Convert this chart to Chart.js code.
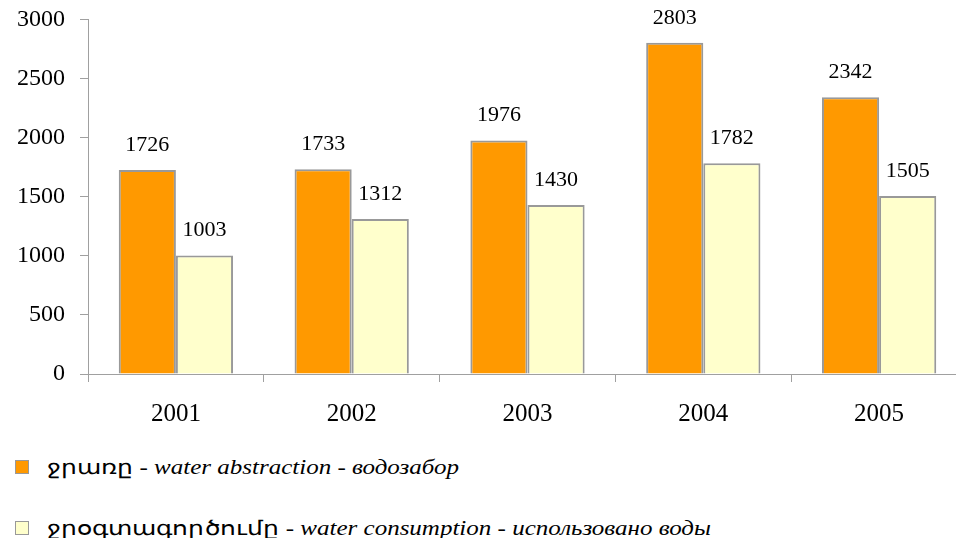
<!DOCTYPE html>
<html>
<head>
<meta charset="utf-8">
<script src="https://cdn.jsdelivr.net/npm/chart.js@4"></script>
<style>
    body {
        margin: 0;
        width: 956px;
        height: 538px;
        overflow: hidden;
        background: #ffffff;
        position: relative;
        font-family: "Liberation Serif", "Times New Roman", serif;
    }
    #wrap {
        position: absolute;
        left: 0;
        top: -10px;
        width: 967px;
        height: 440px;
    }
    .legend-row {
        position: absolute;
        left: 0;
        height: 22px;
        font-size: 20px;
        color: #000;
        white-space: nowrap;
    }
    .legend-box {
        position: absolute;
        left: 15px;
        top: 4px;
        width: 12px;
        height: 12px;
        border: 1px solid #999999;
    }
    .legend-text {
        position: absolute;
        left: 47px;
        top: 0;
        line-height: 22px;
        transform: scaleX(1.25);
        transform-origin: left center;
    }
</style>
</head>
<body>

<div id="wrap"><canvas id="waterChart"></canvas></div>

<div class="legend-row" style="top:456px">
    <span class="legend-box" style="background:#FF9900"></span>
    <span class="legend-text">ջրառը - <i>water abstraction</i> - <i>водозабор</i></span>
</div>
<div class="legend-row" style="top:517px">
    <span class="legend-box" style="background:#FFFFCC"></span>
    <span class="legend-text">ջրօգտագործումը - <i>water consumption</i> - <i>использовано воды</i></span>
</div>

<script>

// ======================
// DATA
// ======================

const years = ["2001", "2002", "2003", "2004", "2005"];

const abstraction = [1726, 1733, 1976, 2803, 2342];

const consumption = [1003, 1312, 1430, 1782, 1505];

const yTicks = [0, 500, 1000, 1500, 2000, 2500, 3000];


Chart.defaults.font.family = "'Liberation Serif', 'Times New Roman', serif";


// ======================
// VALUE LABELS ABOVE BARS
// ======================

const valueLabels = {
    id: "valueLabels",
    afterDatasetsDraw(chart) {
        const ctx = chart.ctx;
        ctx.save();
        ctx.font = "22px 'Liberation Serif', 'Times New Roman', serif";
        ctx.fillStyle = "#000";
        ctx.textAlign = "center";
        ctx.textBaseline = "alphabetic";
        chart.data.datasets.forEach((ds, i) => {
            chart.getDatasetMeta(i).data.forEach((bar, j) => {
                ctx.fillText(ds.data[j], bar.x, bar.y - 19);
            });
        });
        ctx.restore();
    }
};


// ======================
// BAR CHART
// ======================

new Chart(
    document.getElementById("waterChart"),
    {
        type: "bar",

        data: {
            labels: years,
            datasets: [
                {
                    label: "water abstraction",
                    data: abstraction,
                    backgroundColor: "#FF9900",
                    borderColor: "#999999",
                    borderWidth: 2
                },
                {
                    label: "water consumption",
                    data: consumption,
                    backgroundColor: "#FFFFCC",
                    borderColor: "#999999",
                    borderWidth: 2
                }
            ]
        },

        options: {
            responsive: true,
            maintainAspectRatio: false,
            animation: false,
            layout: {
                padding: { top: 10, left: 0, right: 0, bottom: 0 }
            },
            datasets: {
                bar: {
                    categoryPercentage: 0.65,
                    barPercentage: 1
                }
            },
            plugins: {
                legend: { display: false },
                tooltip: { enabled: false }
            },
            scales: {
                x: {
                    grid: {
                        drawOnChartArea: false,
                        drawTicks: true,
                        tickLength: 8,
                        color: "#A0A0A0"
                    },
                    border: { color: "#A0A0A0" },
                    ticks: {
                        color: "#000",
                        padding: 17,
                        font: { size: 25 }
                    },
                    afterFit(axis) {
                        axis.height = 56;
                    }
                },
                y: {
                    min: 0,
                    max: 3000,
                    afterBuildTicks(axis) {
                        axis.ticks = yTicks.map(v => ({ value: v }));
                    },
                    grid: {
                        drawOnChartArea: false,
                        drawTicks: true,
                        tickLength: 8,
                        color: "#A0A0A0"
                    },
                    border: { color: "#A0A0A0" },
                    ticks: {
                        color: "#000",
                        padding: 15,
                        font: { size: 24 },
                        callback: v => String(v)
                    },
                    afterFit(axis) {
                        axis.width = 88;
                    }
                }
            }
        },

        plugins: [valueLabels]
    }
);

</script>
</body>
</html>
